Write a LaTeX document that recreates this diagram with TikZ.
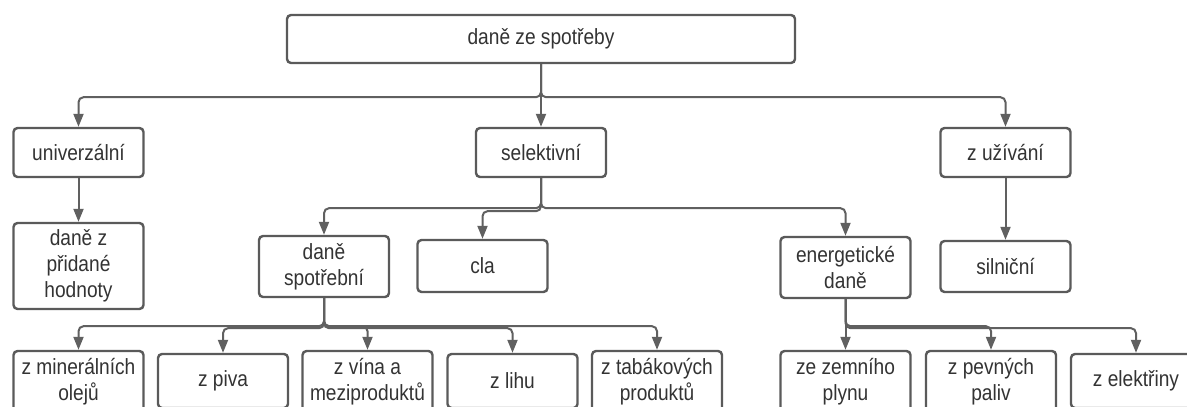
\documentclass[tikz,border=0pt]{standalone}
\usepackage{fontspec}
\setmainfont{Liberation Sans}[FakeStretch=0.87]
\usetikzlibrary{arrows.meta}

\definecolor{boxline}{HTML}{5A5A5A}
\definecolor{wire}{HTML}{606060}
\definecolor{ink}{HTML}{333333}

\tikzset{
  tbox/.style={draw=boxline, line width=2.4pt, rounded corners=4pt, fill=white,
    text=ink, align=center, inner sep=0pt, minimum width=130pt,
    font=\fontsize{22}{26}\selectfont},
  link/.style={draw=wire, line width=2pt, rounded corners=5pt,
    -{Triangle[length=13pt,width=10pt]}}
}

\begin{document}
\begin{tikzpicture}[x=1pt, y=-1pt]
\useasboundingbox (0,0) rectangle (1187,407);
\clip (0,0) rectangle (1187,407);

% top level
\node[tbox, minimum width=508pt, minimum height=48pt] (root) at (541,39) {daně ze spotřeby};

% first level
\node[tbox, minimum height=49pt] (univ) at (78.5,152.5) {univerzální};
\node[tbox, minimum height=49pt] (sel)  at (541,152.5)  {selektivní};
\node[tbox, minimum height=49pt] (uziv) at (1005.5,152.5) {z užívání};

% second level
\node[tbox, minimum height=86pt] (dph)  at (78.5,266)   {daně z\\přidané\\hodnoty};
\node[tbox, minimum height=61pt] (spot) at (324,266.5)  {daně\\spotřební};
\node[tbox, minimum height=52pt] (cla)  at (482.5,266)  {cla};
\node[tbox, minimum height=61pt] (ener) at (845.5,267.5){energetické\\daně};
\node[tbox, minimum height=51pt] (siln) at (1005.5,266.5){silniční};

% third level
\node[tbox, minimum height=61pt] (oleje) at (78.5,381.5)  {z minerálních\\olejů};
\node[tbox, minimum height=54pt] (pivo)  at (223,381)     {z piva};
\node[tbox, minimum height=61pt] (vino)  at (367.5,381.5) {z vína a\\meziproduktů};
\node[tbox, minimum height=54pt] (lih)   at (512.5,381)   {z lihu};
\node[tbox, minimum height=61pt] (tabak) at (657,381.5)   {z tabákových\\produktů};
\node[tbox, minimum height=61pt] (plyn)  at (845.5,381.5) {ze zemního\\plynu};
\node[tbox, minimum height=61pt] (paliv) at (991,381.5)   {z pevných\\paliv};
\node[tbox, minimum height=54pt] (elek)  at (1136,381)    {z elektřiny};

% connectors from the root
\draw[link] (root.south) -- ++(0,33) -| (univ.north);
\draw[link] (root.south) -- (sel.north);
\draw[link] (root.south) -- ++(0,33) -| (uziv.north);

\draw[link] (univ.south) -- (dph.north);
\draw[link] (uziv.south) -- (siln.north);

% selective taxes
\draw[link] (sel.south) -- ++(0,30) -| (spot.north);
\draw[link] (sel.south) -- ++(0,33) -| (cla.north);
\draw[link] (sel.south) -- ++(0,30) -| (ener.north);

% excise duties
\draw[link] (spot.south) -- ++(0,28) -| (oleje.north);
\draw[link] (spot.south) -- ++(0,30) -| (pivo.north);
\draw[link] (spot.south) -- ++(0,28) -| (vino.north);
\draw[link] (spot.south) -- ++(0,30) -| (lih.north);
\draw[link] (spot.south) -- ++(0,28) -| (tabak.north);

% energy taxes
\draw[link] (ener.south) -- (plyn.north);
\draw[link] (ener.south) -- ++(0,27) -| (paliv.north);
\draw[link] (ener.south) -- ++(0,29) -| (elek.north);
\end{tikzpicture}
\end{document}
